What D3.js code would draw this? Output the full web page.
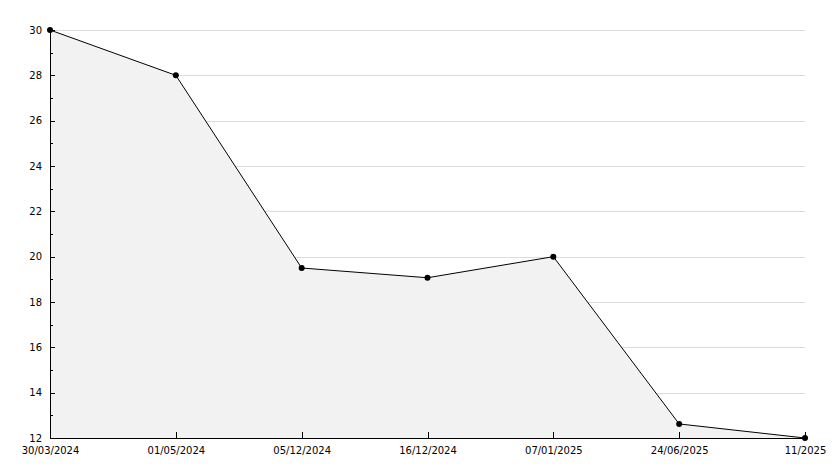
<!DOCTYPE html>
<html lang="en">
    <head>
        <meta charset="utf-8">
        <title>Line chart</title>
        <script type="text/javascript" src="https://cdn.jsdelivr.net/npm/d3@7"></script>
        <style>
            body { margin: 0; background: white; }
            .axis path,
            .axis line {
                fill: none;
                stroke: black;
                shape-rendering: crispEdges;
            }
            .axis text {
                font-family: "DejaVu Sans", sans-serif;
                font-size: 10px;
                fill: black;
            }
            .grid line {
                stroke: #dddddd;
                shape-rendering: crispEdges;
            }
        </style>
    </head>
    <body>
        <script type="text/javascript">

            // data
            var dates = ["30/03/2024", "01/05/2024", "05/12/2024", "16/12/2024", "07/01/2025", "24/06/2025", "11/2025"];
            var values = [30, 28, 19.5, 19.07, 20, 12.62, 12];
            var yTicks = [12, 14, 16, 18, 20, 22, 24, 26, 28, 30];
            var yMinorTicks = [13, 15, 17, 19, 21, 23, 25, 27, 29];

            var w = 834;
            var h = 468;
            // plot edges (can't call it "top", that's window.top)
            var plotLeft = 50, plotRight = 805, plotTop = 30, plotBottom = 438;

            var svg = d3.select("body").append("svg").attr("width", w).attr("height", h);

            var xScale = d3.scalePoint()
                            .domain(dates)
                            .range([plotLeft, plotRight]);
            var yScale = d3.scaleLinear()
                            .domain([12, 30])
                            .range([plotBottom, plotTop]);

            // gridlines, drawn under the fill
            svg.append("g")
                .attr("class", "grid")
                .selectAll("line")
                .data(yTicks.slice(1))
                .enter()
                .append("line")
                .attr("x1", plotLeft + 5)
                .attr("x2", plotRight)
                .attr("y1", function(d) { return Math.round(yScale(d)) + 0.5; })
                .attr("y2", function(d) { return Math.round(yScale(d)) + 0.5; });

            // area under the line
            var area = d3.area()
                .x(function(d, i) { return xScale(dates[i]); })
                .y0(plotBottom)
                .y1(function(d) { return yScale(d); });

            svg.append("path")
                .datum(values)
                .attr("d", area)
                .attr("fill", "#f2f2f2");

            var line = d3.line()
                .x(function(d, i) { return xScale(dates[i]); })
                .y(function(d) { return yScale(d); });

            svg.append("path")
                .datum(values)
                .attr("d", line)
                .attr("fill", "none")
                .attr("stroke", "black")
                .attr("stroke-width", 1);

            // axes
            var yAxis = d3.axisLeft(yScale)
                .tickValues(yTicks)
                .tickSize(-5)
                .tickPadding(8)
                .tickFormat(d3.format("d"));
            var yMinor = d3.axisLeft(yScale)
                .tickValues(yMinorTicks)
                .tickSize(-3)
                .tickFormat("");
            var xAxis = d3.axisBottom(xScale)
                .tickSize(-6)
                .tickPadding(9);

            svg.append("g")
                .attr("class", "y axis major")
                .attr("transform", "translate(" + plotLeft + ",0)")
                .call(yAxis);
            svg.append("g")
                .attr("class", "y axis minor")
                .attr("transform", "translate(" + plotLeft + ",0)")
                .call(yMinor)
                .select(".domain").remove();
            svg.append("g")
                .attr("class", "x axis")
                .attr("transform", "translate(0," + plotBottom + ")")
                .call(xAxis);

            svg.select(".y.axis.major .domain")
                .attr("d", "M0.5," + plotTop + "V" + (plotBottom + 0.5));
            svg.select(".x.axis .domain")
                .attr("d", "M" + plotLeft + ",0.5H" + plotRight);

            // markers
            svg.selectAll("circle")
                .data(values)
                .enter()
                .append("circle")
                .attr("cx", function(d, i) { return xScale(dates[i]); })
                .attr("cy", function(d) { return yScale(d); })
                .attr("r", 3)
                .attr("fill", "black");

        </script>
    </body>
</html>
